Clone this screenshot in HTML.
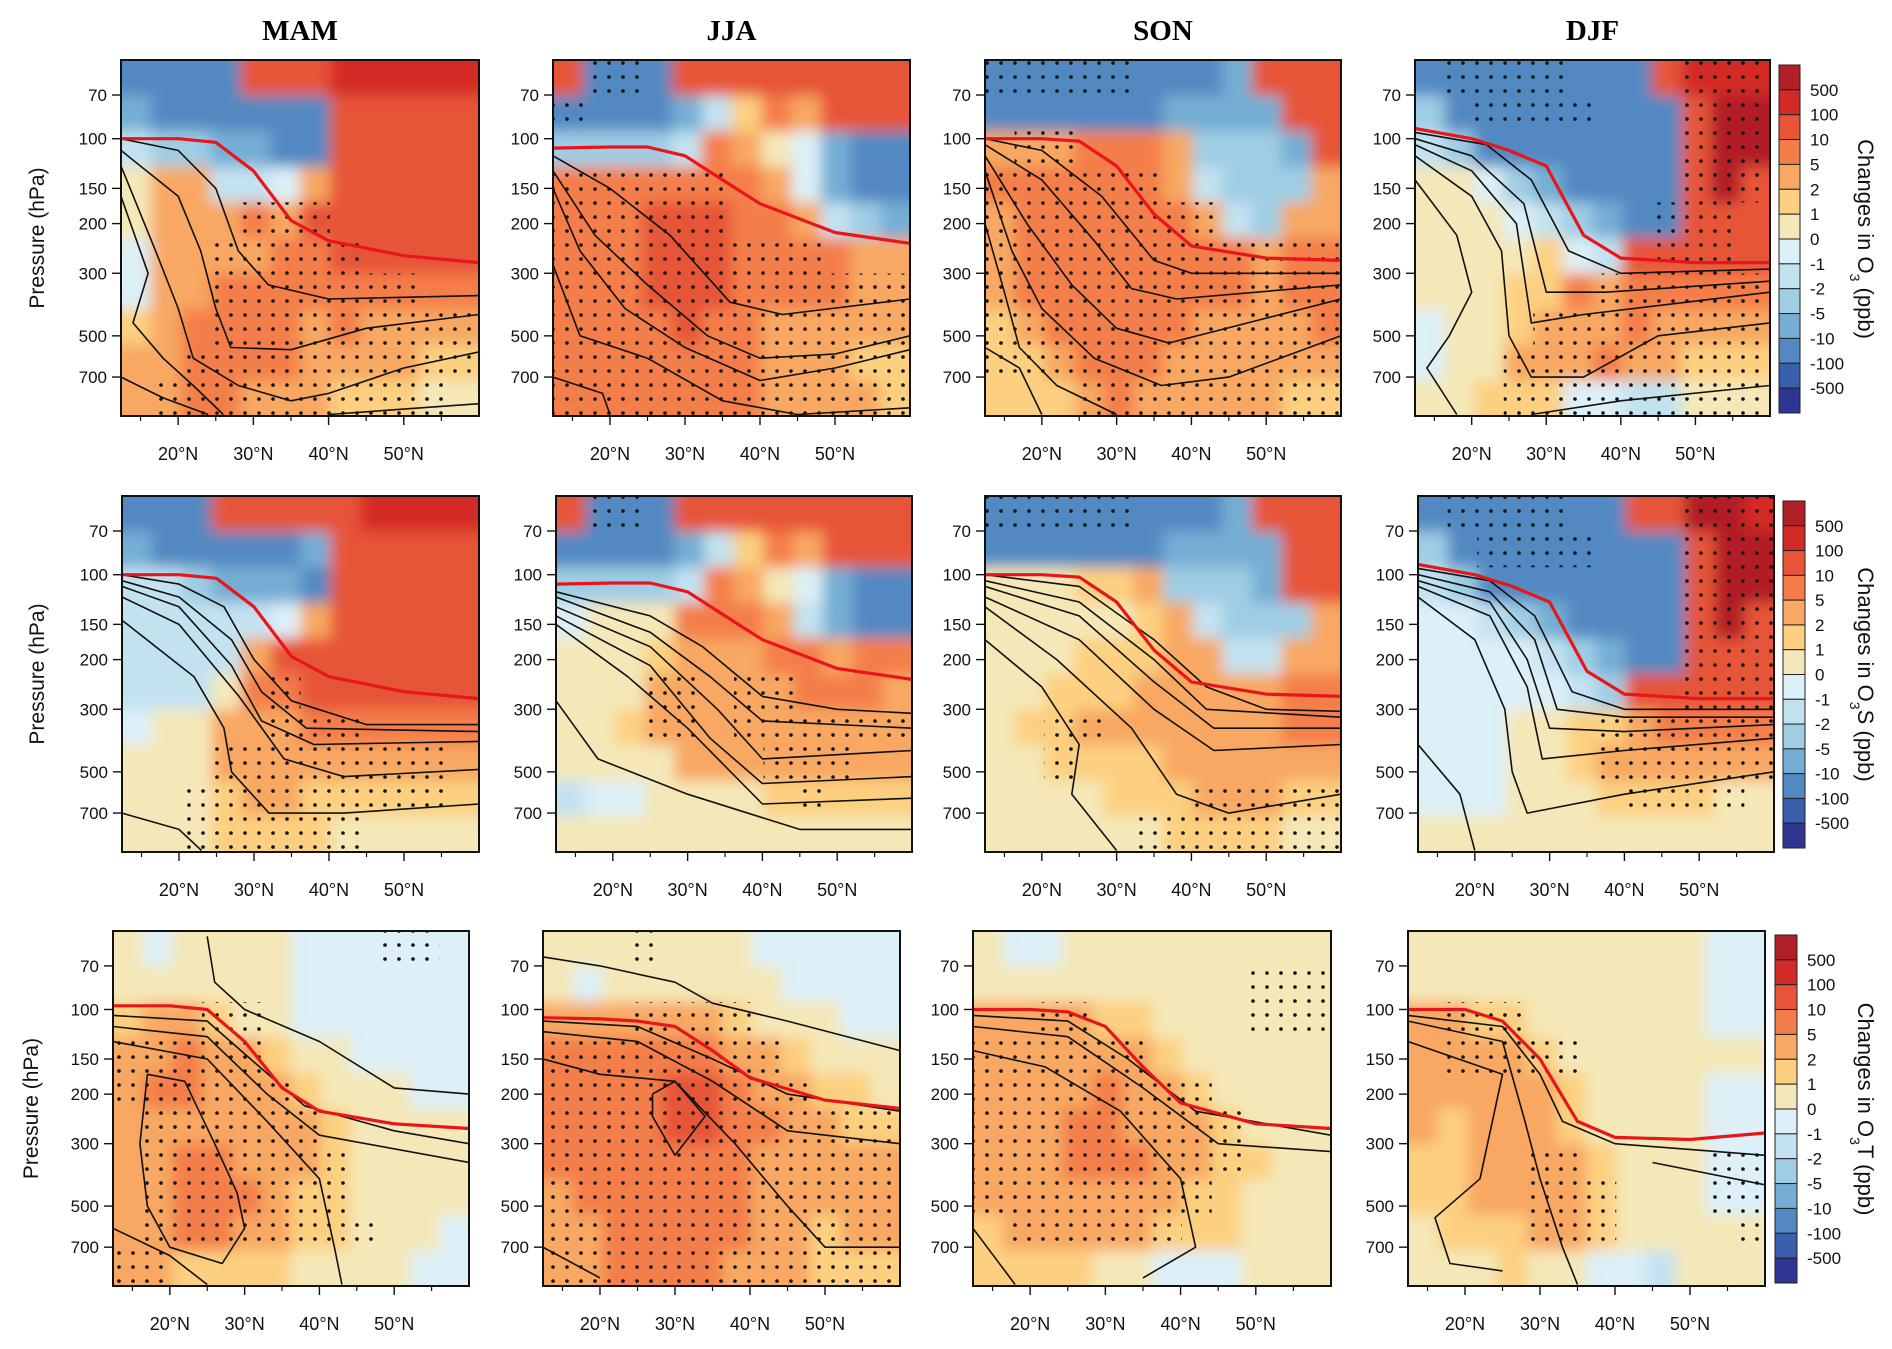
<!DOCTYPE html>
<html><head><meta charset="utf-8"><style>
html,body{margin:0;padding:0;background:#fff;}
svg{display:block;font-family:"Liberation Sans",sans-serif;}
</style></head><body>
<svg id="fig" width="1892" height="1349" viewBox="0 0 1892 1349" xmlns="http://www.w3.org/2000/svg">
<defs>
<pattern id="dots" patternUnits="userSpaceOnUse" width="14" height="14"><circle cx="7" cy="7" r="1.8" fill="#111"/></pattern>
<filter id="soft" x="-10%" y="-10%" width="120%" height="120%"><feGaussianBlur stdDeviation="7"/></filter>
</defs>
</svg>
<script>
const palette = ["#2e3592","#3a5fac","#5289c2","#75aed4","#9fcde4","#c3e2f0","#ddeff7","#f4e8b8","#fcd080","#f8a862","#f47e4a","#e75437","#d42a27","#b11f27"];
const cbLabels = ["500","100","10","5","2","1","0","-1","-2","-5","-10","-100","-500"];
const pTicks = [70,100,150,200,300,500,700];
const latTicks = [20,30,40,50];
const latMinor = [15,25,35,45,55];
const seasons = ["MAM","JJA","SON","DJF"];
const species = ["O","O","O"];
const speciesSuffix = ["","S","T"];

const fill_r1_mam = ["2222bbbccccc","3222222bbbbb","5443322bbbbb","7995569bbbbb","7999a9bbbbbb","69999aabbbbb","699aaaaaaaaa","89aaaa9a9999","99aaaa999988","99aa99988877"];
const fill_r1_jja = ["b222bbbbbbbb","2222358a9bbb","44445a976322","aaaaaaa96322","aaabbbaa9543","aaabbbaaaa99","aaabbbaaaa99","aaaabaa99999","aaaaaaa99988","aaaaaaa99998"];
const fill_r1_son = ["222222223bbb","2222223333bb","999aaa94443b","aaaaaa954449","9aaaaaa95499","9aaaaaaaa9aa","9aaaaaaaa9aa","89aaaaa9999a","889aaa999999","8889a9999988"];
const fill_r1_djf = ["22222222bccc","422222222bdd","542222222bdd","776432222bdb","777654322bbb","7777865bbbbb","77788a9aaaaa","6778999a9999","677999a99888","778886655777"];
const fill_r2_mam = ["222bbbbbcccc","3222223bbbbb","5543332bbbbb","5555569bbbbb","55559bbbbbbb","5557aabbbbbb","677999aaaaaa","777999999999","777899888888","777888877777"];
const fill_r2_jja = ["b222bbbbbbbb","2222358a9bbb","44445a976322","6777aaa95322","7778999aa9aa","77799999aaa9","778999999999","777799999999","566777788888","777777777777"];
const fill_r2_son = ["222222223bbb","2222223333bb","7778894443bb","777778954449","777888995599","7788899999aa","7889999999aa","778888999999","777788899988","777777888877"];
const fill_r2_djf = ["2222222bbddc","422222222bdd","542222222bdd","665432222bdb","666654322bbb","6666654bbbbb","66677889aaaa","666778999999","666777888877","777777777777"];
const fill_r3_mam = ["767777666666","777777666666","899877666666","99a998776666","9aa999877766","999999987777","99aa99987777","99aaa9887777","99aa99887776","998888777766"];
const fill_r3_jja = ["777777766666","767777776666","999999877766","aaaaaa998777","aaaabba99887","aaaabbaa9988","aaaaaaa99999","9aaaaaa99999","99aaaaa99899","99aaaa999888"];
const fill_r3_son = ["766777777777","777777777777","999988777777","999999877777","9999a9987777","999aa9998777","999aaa998877","999999988777","899999888777","888877666777"];
const fill_r3_djf = ["777777777766","777777777766","998877777766","999987777777","999998777766","989998777766","889999877766","889999877766","788899877777","777877665777"];

const dots_r1_mam = ["000000000000","000000000000","000000000000","000000000000","000011100000","000111110000","000111111100","000111111111","001111111111","011111111110"];
const dots_r1_jja = ["011000000000","100000000000","000000000000","111111000000","111111000000","111111111000","111111111111","111111111111","111111111111","111111111111"];
const dots_r1_son = ["111110000000","000000000000","011000000000","111111000000","111111110000","111111111111","111111111111","111111111111","111111111111","000111111111"];
const dots_r1_djf = ["011110000111","001111000111","000000000111","000000000111","000000001110","000000001110","000000111111","000011111111","000111111111","000111111111"];
const dots_r2_mam = ["000000000000","000000000000","000000000000","000000000000","000000000000","000001000000","000001110000","000111111110","001111111110","001111110000"];
const dots_r2_jja = ["011000000000","000000000000","000000000000","000000000000","000000000000","000110110000","000110111111","000000011100","000000001000","000000000000"];
const dots_r2_son = ["111110000000","000000000000","000000000000","000000000000","000000000000","000000000000","001100000000","001000000000","000000011111","000001111111"];
const dots_r2_djf = ["011110000111","001111000111","000000000111","000000000111","000000000111","000000000111","000000111111","000000111111","000000011110","000000000000"];
const dots_r3_mam = ["000000000110","000000000000","000110000000","111110000000","111111000000","011111100000","011111110000","011111110000","011111111000","110000000000"];
const dots_r3_jja = ["000100000000","000000000000","000111100000","111111110000","111111111000","111111111111","111111111111","111111111111","111111111111","111111111111"];
const dots_r3_son = ["000000000000","000000000111","001100000111","111111000000","111111110000","111111111000","111111111000","111111110000","011111100000","000000000000"];
const dots_r3_djf = ["000000000000","000000000000","011100000000","011111000000","000000000000","000000000000","000011000011","000011100011","000011100001","000000000000"];

const trop_lat = [12.4,20,25,30,35,40,50,60];
const trop_mam = [100,100,103,130,195,230,260,275];
const trop_jja = [108,107,107,115,140,170,215,235];
const trop_son = [100,100,102,125,185,240,265,270];
const trop_djf = [92,100,110,125,220,265,275,275];
const trop_r3_mam = [97,97,100,130,190,230,255,265];
const trop_r3_jja = [107,108,110,115,140,175,210,225];
const trop_r3_son = [100,100,102,115,160,215,255,265];
const trop_r3_djf = [100,100,110,150,250,285,290,275];

const lines_r1_mam = [[[12.4,100],[20,110],[25,150],[28,250],[32,330],[40,370],[60,360]],[[12.4,110],[20,160],[23,250],[25,400],[27,550],[35,560],[45,470],[60,420]],[[12.4,125],[17,250],[20,400],[22,600],[28,750],[35,850],[40,800],[50,650],[60,570]],[[12.4,160],[16,300],[14,450],[18,600],[22,750],[26,950]],[[12.4,700],[18,830],[24,950]],[[40,950],[60,870]]];
const lines_r1_jja = [[[12.4,115],[20,150],[28,220],[36,380],[43,420],[60,370]],[[12.4,130],[18,220],[25,330],[33,500],[40,600],[50,580],[60,500]],[[12.4,150],[16,250],[22,400],[30,550],[40,720],[50,650],[60,560]],[[12.4,280],[16,500],[25,600],[35,850],[45,950],[60,900]],[[12.4,700],[19,800],[20,950]]];
const lines_r1_son = [[[12.4,100],[20,110],[28,160],[35,270],[40,300],[60,300]],[[12.4,105],[20,140],[27,230],[32,340],[38,370],[60,330]],[[12.4,115],[18,200],[24,330],[30,470],[37,530],[60,370]],[[12.4,130],[16,250],[20,400],[27,600],[36,750],[45,700],[60,500]],[[12.4,200],[15,350],[17,550],[22,750],[30,950]],[[12.4,550],[17,650],[20,950]]];
const lines_r1_djf = [[[12.4,95],[22,105],[28,140],[33,250],[40,300],[60,290]],[[12.4,100],[20,115],[27,170],[30,350],[38,350],[60,320]],[[12.4,105],[20,130],[26,200],[28,450],[35,420],[60,350]],[[12.4,115],[20,160],[24,250],[25,500],[28,700],[35,700],[45,500],[60,450]],[[12.4,140],[18,220],[20,350],[17,500],[14,650],[18,950]],[[28,950],[40,850],[60,750]]];
const lines_r2_mam = [[[12.4,100],[20,108],[26,130],[30,200],[35,280],[45,340],[60,340]],[[12.4,105],[20,120],[27,170],[31,260],[37,350],[60,360]],[[12.4,110],[20,130],[27,210],[31,330],[38,400],[60,390]],[[12.4,120],[20,150],[28,270],[34,450],[42,520],[60,490]],[[12.4,145],[22,230],[26,350],[27,500],[32,700],[42,700],[60,650]],[[12.4,700],[20,800],[23,950]]];
const lines_r2_jja = [[[12.4,115],[25,140],[32,180],[40,270],[50,300],[60,310]],[[12.4,120],[25,160],[33,230],[40,330],[60,350]],[[12.4,130],[25,180],[34,300],[40,450],[60,420]],[[12.4,140],[25,210],[33,380],[40,550],[60,520]],[[12.4,150],[22,230],[30,350],[40,650],[60,620]],[[12.4,280],[18,450],[30,600],[45,800],[60,800]]];
const lines_r2_son = [[[12.4,100],[25,110],[35,170],[42,250],[50,300],[60,305]],[[12.4,105],[25,125],[35,200],[42,300],[60,320]],[[12.4,110],[25,140],[35,240],[43,350],[60,350]],[[12.4,120],[25,170],[35,300],[43,420],[60,400]],[[12.4,130],[22,200],[32,350],[38,600],[45,700],[60,600]],[[12.4,170],[20,250],[25,400],[24,600],[30,950]]];
const lines_r2_djf = [[[12.4,95],[22,105],[28,140],[33,260],[40,300],[60,300]],[[12.4,100],[22,115],[28,170],[31,300],[40,320],[60,320]],[[12.4,105],[22,125],[27,200],[30,350],[40,360],[60,340]],[[12.4,110],[22,140],[27,250],[29,450],[40,420],[60,380]],[[12.4,120],[20,170],[24,300],[25,500],[27,700],[40,600],[60,500]],[[12.4,400],[18,600],[20,950]]];
const lines_r3_mam = [[[12.4,105],[25,110],[32,160],[38,220],[50,270],[60,300]],[[12.4,115],[25,125],[33,200],[40,280],[60,350]],[[12.4,130],[25,150],[33,250],[40,400],[42,700],[43,950]],[[17,170],[22,180],[26,300],[29,450],[30,600],[27,800],[20,700],[17,500],[16,300],[17,170]],[[25,55],[26,80],[30,100],[40,130],[50,190],[60,200]],[[12.4,600],[20,750],[25,950]]];
const lines_r3_jja = [[[12.4,110],[25,115],[35,150],[45,200],[60,230]],[[12.4,65],[20,70],[30,80],[35,95],[45,110],[60,140]],[[12.4,120],[25,130],[35,180],[45,270],[60,300]],[[12.4,150],[20,170],[30,180],[38,300],[45,500],[50,700],[60,700]],[[27,200],[30,180],[34,240],[30,330],[27,240],[27,200]],[[12.4,700],[20,900]]];
const lines_r3_son = [[[12.4,105],[25,110],[33,150],[42,230],[60,280]],[[12.4,115],[25,125],[35,190],[45,300],[60,320]],[[12.4,140],[22,160],[32,230],[40,400],[42,700],[35,900]],[[12.4,600],[18,950]]];
const lines_r3_djf = [[[12.4,105],[25,115],[30,170],[33,250],[40,300],[60,330]],[[12.4,110],[25,130],[28,250],[30,400],[33,700],[35,950]],[[12.4,130],[25,170],[22,400],[16,550],[18,800],[25,850]],[[45,350],[60,420]]];

const fills = [[fill_r1_mam,fill_r1_jja,fill_r1_son,fill_r1_djf],[fill_r2_mam,fill_r2_jja,fill_r2_son,fill_r2_djf],[fill_r3_mam,fill_r3_jja,fill_r3_son,fill_r3_djf]];
const dotsAll = [[dots_r1_mam,dots_r1_jja,dots_r1_son,dots_r1_djf],[dots_r2_mam,dots_r2_jja,dots_r2_son,dots_r2_djf],[dots_r3_mam,dots_r3_jja,dots_r3_son,dots_r3_djf]];
const trops = [[trop_mam,trop_jja,trop_son,trop_djf],[trop_mam,trop_jja,trop_son,trop_djf],[trop_r3_mam,trop_r3_jja,trop_r3_son,trop_r3_djf]];
const linesAll = [[lines_r1_mam,lines_r1_jja,lines_r1_son,lines_r1_djf],[lines_r2_mam,lines_r2_jja,lines_r2_son,lines_r2_djf],[lines_r3_mam,lines_r3_jja,lines_r3_son,lines_r3_djf]];

const NS = "http://www.w3.org/2000/svg";
const svg = document.getElementById("fig");
function mk(tag, attrs, parent){ const e=document.createElementNS(NS,tag); for(const k in attrs) e.setAttribute(k,attrs[k]); (parent||svg).appendChild(e); return e; }

const rowY = [[60,416],[496,852],[931,1286]];
const colX = [[[121,479],[553,910],[985,1341],[1415,1770]],[[122,479],[556,912],[985,1341],[1418,1774]],[[113,469],[543,900],[973,1331],[1408,1765]]];
const cbX = [[1779,1800],[1783,1805],[1775,1797]];
const cbY = [[65,413],[501,848],[935,1283]];
const LAT0=12.4, LAT1=60, P0=52.6, P1=962;

for(let s=0;s<4;s++){
  const cx=(colX[0][s][0]+colX[0][s][1])/2;
  const t=mk("text",{x:cx,y:40,"text-anchor":"middle","font-size":29,"font-weight":"bold","font-family":"Liberation Serif, serif"});
  
  
  t.textContent=seasons[s];
}

for(let r=0;r<3;r++){
  const [top,bot]=rowY[r]; const H=bot-top;
  const yOf=p=>top+H*(Math.log(p)-Math.log(P0))/(Math.log(P1)-Math.log(P0));
  for(let c=0;c<4;c++){
    const [left,right]=colX[r][c]; const W=right-left;
    const xOf=lat=>left+W*(lat-LAT0)/(LAT1-LAT0);
    const g=mk("g",{});
    
    
    const cid="clip"+r+c;
    const cp=mk("clipPath",{id:cid},g); mk("rect",{x:left,y:top,width:W,height:H},cp);
    const clipG=mk("g",{"clip-path":"url(#"+cid+")"},g);
    const fg=mk("g",{filter:"url(#soft)"},clipG);
    
    
    const grid=fills[r][c]; const nr=grid.length, nc=grid[0].length;
    const cw=W/nc, ch=H/nr;
    for(let i=0;i<nr;i++) for(let j=0;j<nc;j++){
      let x=left+j*cw, y=top+i*ch, w=cw+1, h=ch+1;
      if(j===0){x-=30;w+=30;} if(j===nc-1){w+=30;}
      if(i===0){y-=30;h+=30;} if(i===nr-1){h+=30;}
      const rc=mk("rect",{x:x,y:y,width:w,height:h,fill:palette[parseInt(grid[i][j],16)]},fg);
      
      
    }
    const dm=dotsAll[r][c];
    for(let i=0;i<dm.length;i++) for(let j=0;j<dm[i].length;j++){
      if(dm[i][j]==='1'){
        const d=mk("rect",{x:left+j*cw,y:top+i*ch,width:cw,height:ch,fill:"url(#dots)"},clipG);
        
        
      }
    }
    for(const ln of linesAll[r][c]){
      const pl=mk("polyline",{points:ln.map(q=>xOf(q[0]).toFixed(1)+","+yOf(q[1]).toFixed(1)).join(" "),fill:"none",stroke:"#111","stroke-width":1.6,"stroke-linejoin":"round"},clipG);
      
      
    }
    const tp=trops[r][c];
    const tl=mk("polyline",{points:trop_lat.map((la,k)=>xOf(la).toFixed(1)+","+yOf(tp[k]).toFixed(1)).join(" "),fill:"none",stroke:"#e8151b","stroke-width":3.2,"stroke-linejoin":"round"},clipG);
    
    
    const fr=mk("rect",{x:left,y:top,width:W,height:H,fill:"none",stroke:"#111","stroke-width":2},g);
    
    
    for(const p of pTicks){
      const y=yOf(p);
      mk("line",{x1:left-9,x2:left,y1:y,y2:y,stroke:"#111","stroke-width":1.4},g);
      const t=mk("text",{x:left-14,y:y+6,"text-anchor":"end","font-size":17,fill:"#111"},g);
      
      
      t.textContent=p;
    }
    for(const la of latTicks){
      const x=xOf(la);
      mk("line",{x1:x,x2:x,y1:bot,y2:bot+9,stroke:"#111","stroke-width":1.4},g);
      const t=mk("text",{x:x,y:bot+44,"text-anchor":"middle","font-size":18,fill:"#111"},g);
      
      
      t.textContent=la+"°N";
    }
    for(const la of latMinor){
      const x=xOf(la);
      mk("line",{x1:x,x2:x,y1:bot,y2:bot+5,stroke:"#111","stroke-width":1.2},g);
    }
  }
  const yl=mk("text",{x:0,y:0,transform:"translate("+(r===2?38:44)+","+((top+bot)/2)+") rotate(-90)","text-anchor":"middle","font-size":21,fill:"#111"});
  
  
  yl.textContent="Pressure (hPa)";
  const [bx0,bx1]=cbX[r]; const [by0,by1]=cbY[r]; const bh=(by1-by0)/palette.length;
  const cb=mk("g",{});
  
  
  for(let k=0;k<palette.length;k++){
    const rc=mk("rect",{x:bx0,y:by0+k*bh,width:bx1-bx0,height:bh,fill:palette[palette.length-1-k],stroke:"#222","stroke-width":1},cb);
    
    
  }
  for(let k=0;k<cbLabels.length;k++){
    const t=mk("text",{x:bx1+10,y:by0+(k+1)*bh+6,"font-size":17,fill:"#111"},cb);
    
    
    t.textContent=cbLabels[k];
  }
  const ct=mk("text",{x:0,y:0,transform:"translate(1858,"+((by0+by1)/2)+") rotate(90)","text-anchor":"middle","font-size":22,fill:"#111"});
  
  
  const a=mk("tspan",{},ct); a.textContent="Changes in "+species[r];
  const b=mk("tspan",{"baseline-shift":"sub","font-size":14},ct); b.textContent="3";
  const d=mk("tspan",{},ct); d.textContent=speciesSuffix[r]+" (ppb)";
}
</script>
</body></html>
